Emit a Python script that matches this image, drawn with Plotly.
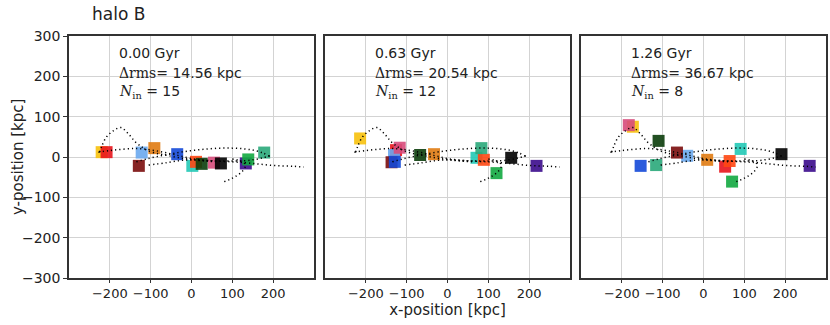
import plotly.graph_objects as go

# satellite colours (same order in every snapshot)
sat_colors = ["#f7c10c", "#e8141c", "#6aa8ee", "#e07b12", "#7a0c0c", "#1449d8", "#22c9b6",
              "#ff4712", "#0b3d0b", "#d74b7b", "#000000", "#3b0b8c", "#12a840", "#2aa87a"]

# positions [kpc] at each snapshot
x_t0 = [-220, -208, -122, -91, -129, -35, 2, 11, 25, 55, 72, 133, 139, 178]
y_t0 = [12, 12, 11, 22, -22, 7, -22, -12, -17, -14, -16, -16, -6, 11]
x_t1 = [-214, -126, -131, -33, -137, -129, 71, 89, -67, -117, 156, 218, 120, 83]
y_t1 = [46, 17, 5, 7, -13, -12, -2, -7, 5, 23, -2, -22, -40, 22]
x_t2 = [-173, 53, -40, 9, -65, -154, 91, 64, -110, -183, 191, 260, 70, -116]
y_t2 = [75, -24, 3, -7, 11, -22, 20, -10, 40, 79, 7, -22, -61, -20]

times = ["0.00", "0.63", "1.26"]
drms = ["14.56", "20.54", "36.67"]
n_in = [15, 12, 8]

# orbit tracks (dotted)
loop_x = [-225, -220, -208, -190, -173, -155, -138, -122, -110, -90, -60, -30, 0, 30, 60]
loop_y = [12, 26, 50, 66, 73, 58, 38, 25, 17, 10, 4, -2, -6, -10, -12]
flat_x = [-228, -200, -170, -140, -120, -90, -60, -30, 0, 30, 60, 90, 120, 150, 175, 195]
flat_y = [12, 16, 19, 21, 20, 16, 10, 3, -4, -8, -10, -10, -10, -7, -2, 4]
arc_x = [-135, -110, -80, -50, -20, 10, 40, 70, 100, 130, 155, 175, 190]
arc_y = [-12, -5, 2, 8, 13, 17, 20, 22, 22, 20, 16, 10, 2]
tail_x = [-105, -60, -20, 20, 60, 100, 130, 160, 190, 220, 250, 275]
tail_y = [-20, -14, -8, -8, -10, -12, -14, -17, -20, -22, -23, -25]
desc_x = [100, 115, 128, 132, 125, 110, 95, 78]
desc_y = [-5, -8, -14, -22, -35, -47, -55, -62]
tracks = [(loop_x, loop_y), (flat_x, flat_y), (arc_x, arc_y), (tail_x, tail_y), (desc_x, desc_y)]

snaps = [(x_t0, y_t0), (x_t1, y_t1), (x_t2, y_t2)]
W, H = 830, 325
xdom = [(69, 314), (325, 570), (581, 826)]
ydom = [(H - 278) / H, (H - 36) / H]

fig = go.Figure()
font = "DejaVu Sans, sans-serif"
serif = "DejaVu Serif"

for i, (sx, sy) in enumerate(snaps):
    ax = "" if i == 0 else str(i + 1)
    fig.add_trace(go.Scatter(
        x=sx, y=sy, mode="markers", xaxis="x" + ax, yaxis="y" + ax,
        marker=dict(symbol="square", size=12, color=sat_colors, opacity=0.9,
                    line=dict(width=0)),
        showlegend=False, hoverinfo="skip"))
    for tx, ty in tracks:
        fig.add_trace(go.Scatter(
            x=tx, y=ty, mode="lines", xaxis="x" + ax, yaxis="y" + ax,
            line=dict(color="black", width=1.5, dash="1.2px,3px", shape="spline"),
            showlegend=False, hoverinfo="skip"))

    x0, x1 = xdom[i]
    fig.layout["xaxis" + ax] = dict(
        domain=[x0 / W, x1 / W], range=[-300, 300], anchor="y" + ax, automargin=False,
        tickvals=[-200, -100, 0, 100, 200], showgrid=True, gridcolor="#d3d3d3",
        gridwidth=1, zeroline=False, showline=True, linecolor="#333", linewidth=1.5,
        mirror=True, ticks="outside", ticklen=3, tickcolor="#333",
        tickfont=dict(family=font, size=13, color="#222"))
    fig.layout["yaxis" + ax] = dict(
        domain=ydom, range=[-300, 300], anchor="x" + ax, automargin=False,
        tickvals=[-300, -200, -100, 0, 100, 200, 300], showgrid=True,
        gridcolor="#d3d3d3", gridwidth=1, zeroline=False, showline=True,
        linecolor="#333", linewidth=1.5, mirror=True,
        ticks="outside" if i == 0 else "", ticklen=4, tickcolor="#333",
        showticklabels=(i == 0),
        tickfont=dict(family=font, size=14, color="#222"))

    lines = [f"{times[i]} Gyr",
             f"<span style='font-family:{serif}'>\u0394rms=</span> {drms[i]} kpc",
             f"<span style='font-family:{serif}'><i>N</i><sub>in</sub> =</span> {n_in[i]}"]
    for txt, ty in zip(lines, [258, 209, 160]):
        fig.add_annotation(x=-182, y=ty, xref="x" + ax, yref="y" + ax, text=txt,
                           showarrow=False, xanchor="left", yanchor="middle", align="left",
                           font=dict(family=font, size=14, color="#222"))

fig.layout.xaxis2.title = dict(text="x-position [kpc]", font=dict(family=font, size=15, color="#222"),
                               standoff=4)

# y-axis title placed as a rotated annotation
fig.add_annotation(x=18 / W, y=1 - 157 / H, xref="paper", yref="paper", text="y-position [kpc]",
                   showarrow=False, textangle=-90, xanchor="center", yanchor="middle",
                   font=dict(family=font, size=15, color="#222"))

fig.add_annotation(x=118 / W, y=1 - 14 / H, xref="paper", yref="paper", text="halo B",
                   showarrow=False, xanchor="center", yanchor="middle",
                   font=dict(family=font, size=17, color="#222"))

fig.update_layout(width=W, height=H, margin=dict(l=0, r=0, t=0, b=0),
                  plot_bgcolor="white", paper_bgcolor="white")

# drop the default 8px page margin so the figure sits at the window corner
fig.write_html("out.html", config={"displayModeBar": False},
               post_script="document.body.style.margin='0px';")
